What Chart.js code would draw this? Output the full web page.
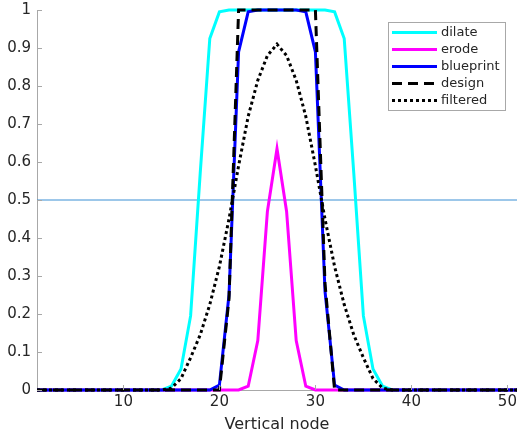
<!DOCTYPE html>
<html>
<head>
<meta charset="utf-8">
<script src="https://cdn.jsdelivr.net/npm/chart.js@4/dist/chart.umd.min.js"></script>
<style>
  html, body { margin: 0; padding: 0; background: #fff; }
</style>
</head>
<body>
<canvas id="chart" width="517" height="434"></canvas>
<script>
// Data
const nodes = [1, 2, 3, 4, 5, 6, 7, 8, 9, 10, 11, 12, 13, 14, 15, 16, 17, 18, 19, 20,
  21, 22, 23, 24, 25, 26, 27, 28, 29, 30, 31, 32, 33, 34, 35, 36, 37, 38, 39, 40,
  41, 42, 43, 44, 45, 46, 47, 48, 49, 50, 51];
const xTicks = [10, 20, 30, 40, 50];
const yTicks = [0, 0.1, 0.2, 0.3, 0.4, 0.5, 0.6, 0.7, 0.8, 0.9, 1];

const dilate = [0, 0, 0, 0, 0, 0, 0, 0, 0, 0, 0, 0, 0, 0,
  0.01, 0.055, 0.195, 0.57, 0.925, 0.995,
  1, 1, 1, 1, 1, 1, 1, 1, 1, 1, 1,
  0.995, 0.925, 0.57, 0.195, 0.055, 0.01,
  0, 0, 0, 0, 0, 0, 0, 0, 0, 0, 0, 0, 0, 0];
const erode = [0, 0, 0, 0, 0, 0, 0, 0, 0, 0, 0, 0, 0, 0, 0, 0, 0, 0, 0, 0, 0, 0,
  0.01, 0.13, 0.47, 0.635, 0.47, 0.13, 0.01,
  0, 0, 0, 0, 0, 0, 0, 0, 0, 0, 0, 0, 0, 0, 0, 0, 0, 0, 0, 0, 0, 0, 0];
const blueprint = [0, 0, 0, 0, 0, 0, 0, 0, 0, 0, 0, 0, 0, 0, 0, 0, 0, 0, 0,
  0.013, 0.25, 0.89, 0.995, 1, 1, 1, 1, 1, 0.995, 0.89, 0.26, 0.013,
  0, 0, 0, 0, 0, 0, 0, 0, 0, 0, 0, 0, 0, 0, 0, 0, 0, 0, 0];
const design = [0, 0, 0, 0, 0, 0, 0, 0, 0, 0, 0, 0, 0, 0, 0, 0, 0, 0, 0, 0,
  0.24, 1, 1, 1, 1, 1, 1, 1, 1, 1, 0.28,
  0, 0, 0, 0, 0, 0, 0, 0, 0, 0, 0, 0, 0, 0, 0, 0, 0, 0, 0, 0];
const filtered = [0, 0, 0, 0, 0, 0, 0, 0, 0, 0, 0, 0, 0, 0,
  0.005, 0.03, 0.085, 0.145, 0.225, 0.325, 0.45, 0.59, 0.72, 0.815, 0.88,
  0.91, 0.88, 0.815, 0.72, 0.59, 0.45, 0.325, 0.225, 0.145, 0.085, 0.03, 0.005,
  0, 0, 0, 0, 0, 0, 0, 0, 0, 0, 0, 0, 0, 0];
const threshold = [{ x: 1, y: 0.5 }, { x: 51, y: 0.5 }];

Chart.defaults.font.family = 'DejaVu Sans';
Chart.defaults.font.size = 15;
Chart.defaults.color = '#262626';

const axisColor = '#a8a8a8';

// MATLAB-like ticks pointing into the plot
const innerTicks = {
  id: 'innerTicks',
  afterDraw(chart) {
    const { ctx, chartArea, scales } = chart;
    ctx.save();
    ctx.strokeStyle = axisColor;
    ctx.lineWidth = 1;
    ctx.beginPath();
    xTicks.forEach(v => {
      const px = Math.round(scales.x.getPixelForValue(v)) + 0.5;
      ctx.moveTo(px, chartArea.bottom);
      ctx.lineTo(px, chartArea.bottom - 5);
    });
    yTicks.forEach(v => {
      const py = Math.round(scales.y.getPixelForValue(v)) + 0.5;
      ctx.moveTo(chartArea.left, py);
      ctx.lineTo(chartArea.left + 5, py);
    });
    ctx.stroke();
    ctx.restore();
  }
};

// legend box inside the plot, top right
const boxLegend = {
  id: 'boxLegend',
  afterDraw(chart) {
    const ctx = chart.ctx;
    const items = chart.data.datasets.filter(d => d.label);
    const x0 = 388, y0 = 22, w = 117, h = 88;
    ctx.save();
    ctx.fillStyle = '#fff';
    ctx.fillRect(x0, y0, w, h);
    ctx.strokeStyle = axisColor;
    ctx.lineWidth = 1;
    ctx.strokeRect(x0 + 0.5, y0 + 0.5, w, h);
    ctx.font = '13px "DejaVu Sans"';
    ctx.textBaseline = 'middle';
    ctx.fillStyle = '#262626';
    items.forEach((d, i) => {
      const y = y0 + 10.5 + i * 17;
      ctx.beginPath();
      ctx.strokeStyle = d.borderColor;
      ctx.lineWidth = d.borderWidth;
      ctx.setLineDash(d.borderDash || []);
      ctx.moveTo(x0 + 4, y);
      ctx.lineTo(x0 + 49, y);
      ctx.stroke();
      ctx.setLineDash([]);
      ctx.fillText(d.label, x0 + 53, y);
    });
    ctx.restore();
  }
};

const lineStyle = { borderWidth: 3, pointRadius: 0, tension: 0, fill: false, clip: false };

new Chart(document.getElementById('chart'), {
  type: 'line',
  data: {
    labels: nodes,
    datasets: [
      { label: 'dilate', data: dilate, borderColor: '#00ffff', order: 5, ...lineStyle },
      { label: 'erode', data: erode, borderColor: '#ff00ff', order: 4, ...lineStyle },
      { label: 'blueprint', data: blueprint, borderColor: '#0000ff', order: 3, ...lineStyle },
      { label: 'design', data: design, borderColor: '#000000', borderDash: [10, 6], order: 2, ...lineStyle },
      { label: 'filtered', data: filtered, borderColor: '#000000', borderDash: [3, 3], order: 1, ...lineStyle },
      { label: '', data: threshold, borderColor: '#3b8fd4', borderWidth: 1, pointRadius: 0, order: 10 }
    ]
  },
  options: {
    responsive: false,
    animation: false,
    layout: { padding: { top: 10, right: 0, bottom: 0, left: 0 } },
    plugins: {
      legend: { display: false },
      tooltip: { enabled: false }
    },
    scales: {
      x: {
        type: 'linear',
        min: 1,
        max: 51,
        afterBuildTicks: s => { s.ticks = xTicks.map(v => ({ value: v })); },
        afterFit: s => { s.height = 44; s.paddingLeft = 0; s.paddingRight = 0; },
        ticks: { padding: 3, maxRotation: 0, callback: v => String(v) },
        grid: { display: false, drawTicks: false },
        border: { display: true, color: axisColor, width: 1 },
        title: { display: true, text: 'Vertical node', font: { size: 16 }, padding: { top: 0, bottom: 0 } }
      },
      y: {
        min: 0,
        max: 1,
        afterBuildTicks: s => { s.ticks = yTicks.map(v => ({ value: v })); },
        afterFit: s => { s.width = 37; s.paddingTop = 0; s.paddingBottom = 0; },
        ticks: { padding: 6, callback: v => String(Math.round(v * 10) / 10) },
        grid: { display: false, drawTicks: false },
        border: { display: true, color: axisColor, width: 1 }
      }
    }
  },
  plugins: [innerTicks, boxLegend]
});
</script>
</body>
</html>
